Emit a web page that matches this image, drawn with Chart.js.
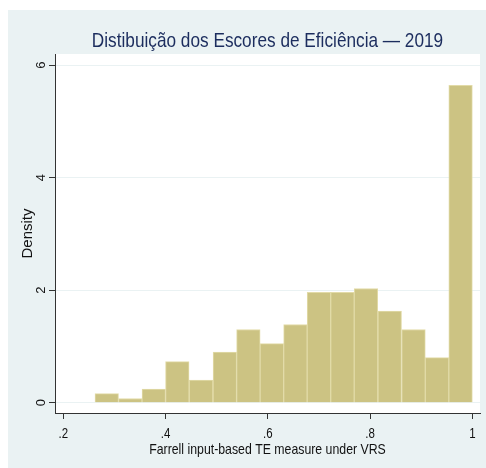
<!DOCTYPE html>
<html>
<head>
<meta charset="utf-8">
<script src="https://cdn.jsdelivr.net/npm/chart.js@4.4.1/dist/chart.umd.min.js"></script>
<style>
  html, body { margin: 0; padding: 0; background: #ffffff; }
  #wrap { width: 486px; height: 468px; }
</style>
</head>
<body>
<div id="wrap"><canvas id="hist"></canvas></div>
<script>
// histogram bins: edges and density per bin
const binEdges = [0.262, 0.308, 0.354, 0.400, 0.446, 0.493, 0.539, 0.585, 0.631,
                  0.677, 0.723, 0.769, 0.815, 0.862, 0.908, 0.954, 1.000];
const densities = [0.16, 0.075, 0.24, 0.73, 0.40, 0.90, 1.30, 1.05,
                   1.39, 1.96, 1.96, 2.03, 1.63, 1.30, 0.80, 5.64];
const xTicks = [0.2, 0.4, 0.6, 0.8, 1.0];
const xTickLabels = ['.2', '.4', '.6', '.8', '1'];
const yTicks = [0, 2, 4, 6];
const yTickLabels = ['0', '2', '4', '6'];

const titleText = 'Distibuição dos Escores de Eficiência — 2019';
const xTitleText = 'Farrell input-based TE measure under VRS';

const points = densities.map((d, i) => ({ x: (binEdges[i] + binEdges[i + 1]) / 2, y: d }));

const FONT = "'Liberation Sans', Arial, Helvetica, sans-serif";
const BG = '#eaf2f3';
const AXIS = '#333333';
const SQUEEZE = 0.82; // horizontal text compression

// outer light panel + white plot region
const panels = {
  id: 'panels',
  beforeDraw(chart) {
    const { ctx, chartArea: a } = chart;
    ctx.save();
    ctx.fillStyle = BG;
    ctx.fillRect(8, 10, chart.width - 8, chart.height - 10);
    ctx.fillStyle = '#ffffff';
    ctx.fillRect(a.left, a.top, a.right - a.left, a.bottom - a.top);
    ctx.restore();
  }
};

function narrowText(ctx, text, x, y, size, color) {
  ctx.save();
  ctx.translate(x, y);
  ctx.scale(SQUEEZE, 1);
  ctx.font = size + 'px ' + FONT;
  ctx.fillStyle = color;
  ctx.textAlign = 'center';
  ctx.textBaseline = 'alphabetic';
  ctx.fillText(text, 0, 0);
  ctx.restore();
}

// title, x tick labels and x title in condensed lettering
const narrowLabels = {
  id: 'narrowLabels',
  afterDraw(chart) {
    const { ctx, chartArea: a } = chart;
    const xs = chart.scales.x;
    const cx = (a.left + a.right) / 2;
    narrowText(ctx, titleText, cx, 47, 21, '#1c2d5e');
    xTicks.forEach((v, i) => {
      narrowText(ctx, xTickLabels[i], xs.getPixelForValue(v), 437.5, 14, '#111');
    });
    narrowText(ctx, xTitleText, cx, 453.5, 15, '#111');
  }
};

new Chart(document.getElementById('hist'), {
  type: 'bar',
  data: {
    datasets: [{
      data: points,
      backgroundColor: '#ccc383',
      borderColor: '#e2dba8',
      borderWidth: 1,
      barPercentage: 1,
      categoryPercentage: 1
    }]
  },
  options: {
    responsive: true,
    maintainAspectRatio: false,
    animation: false,
    layout: { padding: { left: 8, top: 54, right: 6, bottom: 0 } },
    plugins: {
      legend: { display: false },
      tooltip: { enabled: false },
      title: { display: false }
    },
    scales: {
      x: {
        type: 'linear',
        offset: false,
        min: 0.1838,
        max: 1.015,
        afterBuildTicks(scale) { scale.ticks = xTicks.map(v => ({ value: v })); },
        afterFit(scale) { scale.height = 55; },
        ticks: { display: false },
        grid: { offset: false, drawOnChartArea: false, tickLength: 6, tickColor: AXIS },
        border: { color: AXIS, width: 1 }
      },
      y: {
        min: -0.183,
        max: 6.196,
        afterBuildTicks(scale) { scale.ticks = yTicks.map(v => ({ value: v })); },
        afterFit(scale) { scale.width = 47; },
        ticks: {
          color: '#111',
          font: { family: FONT, size: 13 },
          padding: 4,
          minRotation: 90,
          maxRotation: 90,
          crossAlign: 'center',
          callback: (v, i) => yTickLabels[i]
        },
        grid: { color: BG, lineWidth: 1, tickLength: 6, tickColor: AXIS },
        border: { color: AXIS, width: 1 },
        title: {
          display: true,
          text: 'Density',
          color: '#111',
          font: { family: FONT, size: 15 },
          padding: { top: 11, bottom: 0 }
        }
      }
    }
  },
  plugins: [panels, narrowLabels]
});
</script>
</body>
</html>
